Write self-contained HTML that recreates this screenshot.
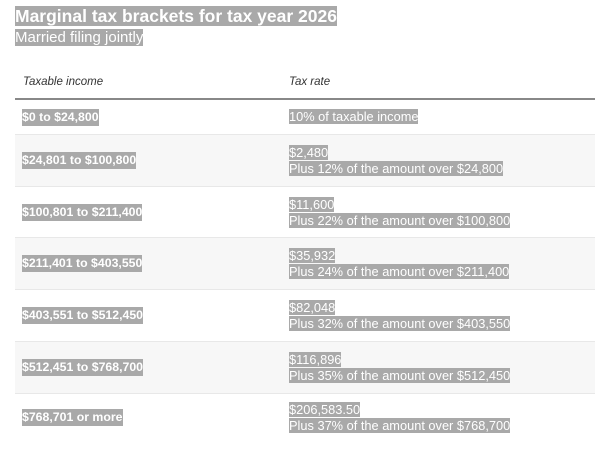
<!DOCTYPE html>
<html><head><meta charset="utf-8"><style>
body{margin:0;width:600px;height:449px;background:#fff;font-family:"Liberation Sans",sans-serif;position:relative;overflow:hidden}
.h{background:#a9a9a9;color:#fff}
#t{position:absolute;left:15px;top:6px;font-size:17.5px;font-weight:bold;line-height:20px}
#s{position:absolute;left:15px;top:28px;font-size:15px;line-height:19px}
.hd{position:absolute;top:76px;font-size:11.5px;font-style:italic;color:#333}
#line{position:absolute;left:15px;top:98px;width:580px;height:2px;background:#888}
.row{position:absolute;left:15px;width:580px;border-top:1px solid #e8e8e8;display:flex;align-items:center}
.row.g{background:#f7f7f7}
.l{position:absolute;left:7px;font-size:12.3px;font-weight:bold;line-height:17px}
.r{position:absolute;left:274px;font-size:12.8px;line-height:16px}
</style></head><body>
<div id="t"><span class="h">Marginal tax brackets for tax year 2026</span></div>
<div id="s"><span class="h">Married filing jointly</span></div>
<div class="hd" style="left:23px">Taxable income</div>
<div class="hd" style="left:289px">Tax rate</div>
<div id="line"></div>
<div class="row" style="top:100px;height:34px;border-top:none"><span class="l h">$0 to $24,800</span><span class="r"><span class="h">10% of taxable income</span></span></div>
<div class="row g" style="top:134px;height:51px"><span class="l h">$24,801 to $100,800</span><span class="r"><span class="h">$2,480</span><br><span class="h">Plus 12% of the amount over $24,800</span></span></div>
<div class="row" style="top:186px;height:51px"><span class="l h">$100,801 to $211,400</span><span class="r"><span class="h">$11,600</span><br><span class="h">Plus 22% of the amount over $100,800</span></span></div>
<div class="row g" style="top:237px;height:51px"><span class="l h">$211,401 to $403,550</span><span class="r"><span class="h">$35,932</span><br><span class="h">Plus 24% of the amount over $211,400</span></span></div>
<div class="row" style="top:289px;height:51px"><span class="l h">$403,551 to $512,450</span><span class="r"><span class="h">$82,048</span><br><span class="h">Plus 32% of the amount over $403,550</span></span></div>
<div class="row g" style="top:341px;height:51px"><span class="l h">$512,451 to $768,700</span><span class="r"><span class="h">$116,896</span><br><span class="h">Plus 35% of the amount over $512,450</span></span></div>
<div class="row" style="top:393px;height:47px"><span class="l h">$768,701 or more</span><span class="r"><span class="h">$206,583.50</span><br><span class="h">Plus 37% of the amount over $768,700</span></span></div>
</body></html>
